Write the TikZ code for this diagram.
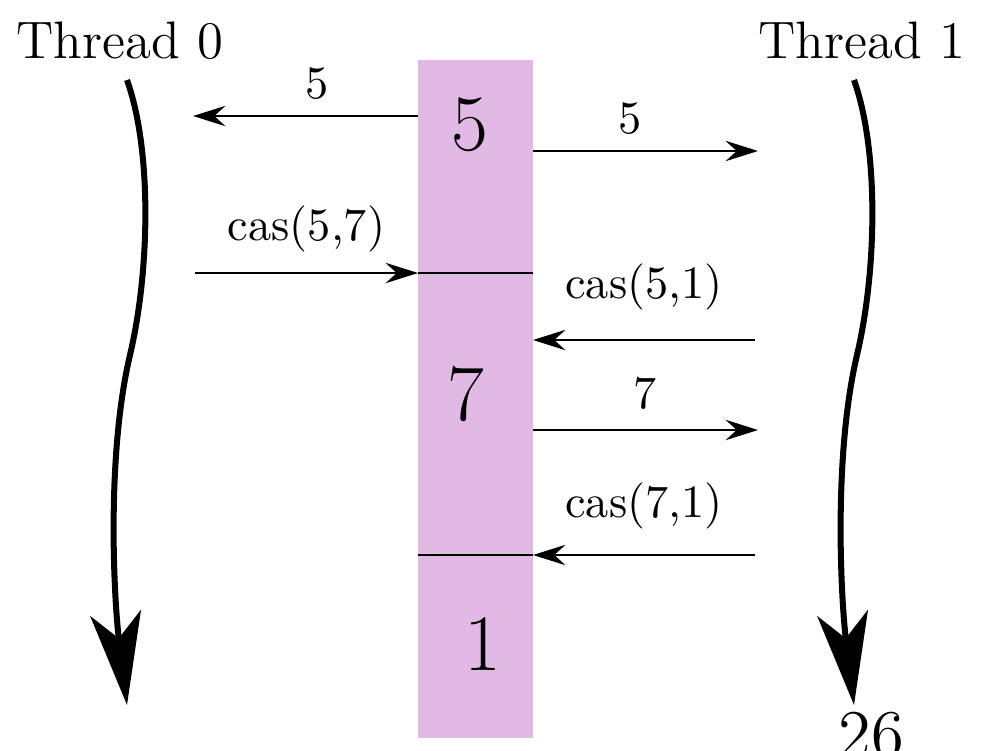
\documentclass[tikz,border=0pt]{standalone}
\usetikzlibrary{arrows.meta,fit}
\definecolor{cellpink}{RGB}{226,185,228}

\begin{document}
\begin{tikzpicture}[x=0.216pt,y=-0.216pt,
  cell/.style={fill=cellpink,inner sep=0pt,outer sep=0pt},
  msg/.style={thin,-{Stealth[length=7pt,width=4.4pt,inset=2.4pt]}},
  thread/.style={line width=1.3pt,-{Stealth[length=20pt,width=11pt,inset=5.5pt]}},
  title/.style={anchor=base,font=\fontsize{11.4}{13}\selectfont},
  val/.style={anchor=base,font=\LARGE}]
\useasboundingbox (0,0) rectangle (981,750);

\node[title] (th0) at (120,58) {Thread 0};
\node[title] (th1) at (862,58) {Thread 1};

% the shared memory cell, one box per value it holds
\node[cell,fit={(418,60) (533,273)}] (cell5) {};
\node[cell,fit={(418,273) (533,555)}] (cell7) {};
\node[cell,fit={(418,555) (533,738)}] (cell1) {};
\draw[thin] (cell5.south west) -- (cell5.south east);
\draw[thin] (cell7.south west) -- (cell7.south east);

\node[val] (v5) at (470,150) {5};
\node[val] (v7) at (466,420) {7};
\node[val] (v1) at (483,670) {1};

% reads and cas requests
\coordinate (r0) at (193,116);
\coordinate (r1) at (758,151);
\coordinate (w0) at (195,273);
\coordinate (w1) at (755,340);
\coordinate (r2) at (758,430);
\coordinate (w2) at (755,555);
\draw[msg] (cell5.west |- r0) -- (r0) node[pos=.45,above] {5};
\draw[msg] (cell5.east |- r1) -- (r1) node[pos=.43,above] {5};
\draw[msg] (w0) -- (cell5.south west) node[midway,above=1pt] {cas(5,7)};
\draw[msg] (w1) -- (w1 -| cell7.east) node[midway,above=3pt] {cas(5,1)};
\draw[msg] (cell7.east |- r2) -- (r2) node[midway,above=1pt] {7};
\draw[msg] (w2) -- (cell7.south east) node[midway,above=2pt] {cas(7,1)};

% time lines of the two threads
\coordinate (t0s) at (127,80);
\coordinate (t0e) at (127,705);
\coordinate (t1s) at (854,80);
\coordinate (t1e) at (854,705);
\draw[thread] (t0s) .. controls (152,150) and (150,270) .. (130,355)
  .. controls (106,457) and (114,600) .. (t0e);
\draw[thread] (t1s) .. controls (879,150) and (877,270) .. (857,355)
  .. controls (833,457) and (841,600) .. (t1e);

\node[anchor=base,font=\Large,inner sep=0pt] (pg) at (871,756) {26};
\end{tikzpicture}
\end{document}
